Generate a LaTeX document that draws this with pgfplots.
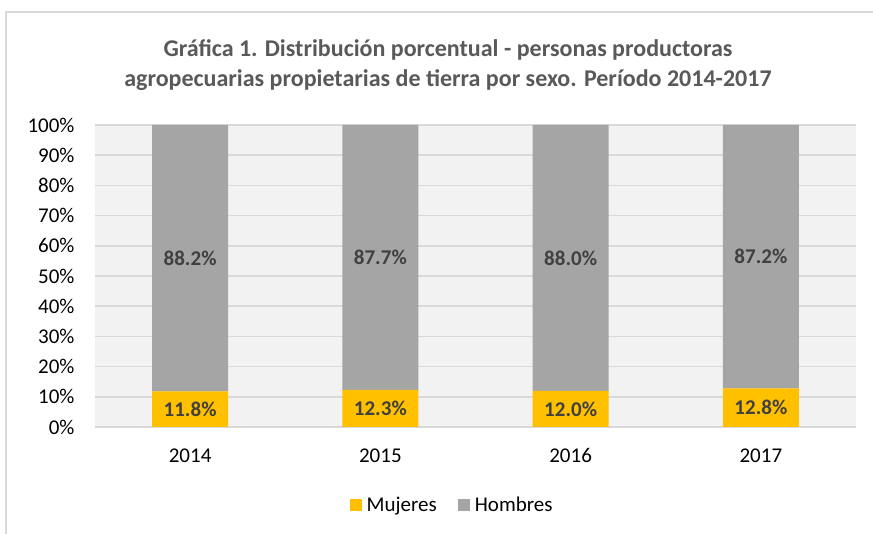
\documentclass[border=0pt]{standalone}
\usepackage{pgfplots}
\pgfplotsset{compat=1.18}
\usepackage{pgfplotstable}
\usepackage{fontspec}
\setmainfont{Carlito}
\definecolor{myyellow}{HTML}{FFC000}
\definecolor{mygray}{HTML}{A5A5A5}
\definecolor{gridgray}{HTML}{D9D9D9}
\definecolor{plotbg}{HTML}{F2F2F2}
\definecolor{titlegray}{HTML}{595959}
\definecolor{labelgray}{HTML}{404040}

\pgfplotstableread{
x year mujeres hombres
0 2014 11.8 88.2
1 2015 12.3 87.7
2 2016 12.0 88.0
3 2017 12.8 87.2
}\datatable

\begin{document}
\begin{tikzpicture}
\useasboundingbox (0,0) rectangle (873pt,533pt);
\fill[white] (0,0) rectangle (873pt,533pt);
\draw[gridgray, line width=1.5pt] (6pt,-10pt) -- (6pt,521pt) -- (885pt,521pt);
\node[align=center, text=titlegray, font=\fontsize{24}{30}\selectfont\bfseries] at (448pt,468pt)
  {Gráfica 1. Distribución porcentual - personas productoras\\agropecuarias propietarias de tierra por sexo. Período 2014-2017};
\begin{axis}[
  at={(95pt,106pt)}, anchor=south west,
  scale only axis, width=761pt, height=302pt,
  xmin=-0.5, xmax=3.5, ymin=0, ymax=100,
  ybar stacked, bar width=76pt,
  axis background/.style={fill=plotbg},
  axis line style={draw=none},
  ymajorgrids, grid style={gridgray, line width=1.5pt},
  ytick={0,10,...,100},
  yticklabel={\pgfmathprintnumber{\tick}\%},
  yticklabel style={xshift=-17pt},
  xtick={0,1,2,3}, xticklabels={2014,2015,2016,2017},
  xticklabel style={yshift=-18pt},
  tick style={draw=none},
  ticklabel style={font=\fontsize{21}{21}\selectfont},
  /pgf/number format/assume math mode=true,
  legend columns=2,
  legend style={at={(0.468,-0.258)}, anchor=center, draw=none, fill=none,
    font=\fontsize{21}{21}\selectfont,
    nodes={inner sep=0pt},
    /tikz/every odd column/.style={column sep=5pt},
    /tikz/every even column/.style={column sep=21pt}},
  legend image code/.code={\fill[#1,draw=none] (0pt,-6pt) rectangle (12pt,6pt);},
]
\addplot[fill=myyellow, draw=none] table[x=x, y=mujeres] \datatable;
\addlegendentry{Mujeres}
\addplot[fill=mygray, draw=none] table[x=x, y=hombres] \datatable;
\addlegendentry{Hombres}
\end{axis}
\begin{axis}[
  at={(95pt,106pt)}, anchor=south west,
  scale only axis, width=761pt, height=302pt,
  xmin=-0.5, xmax=3.5, ymin=0, ymax=100,
  hide axis,
  nodes near coords={\pgfmathprintnumber[fixed, fixed zerofill, precision=1, assume math mode=true]{\pgfplotspointmeta}\%},
  every node near coord/.append style={anchor=center, text=labelgray, font=\fontsize{21}{21}\selectfont\bfseries},
]
\addplot[draw=none, mark=none, point meta=explicit] table[x=x, y expr=\thisrow{mujeres}/2, meta=mujeres] \datatable;
\addplot[draw=none, mark=none, point meta=explicit] table[x=x, y expr=\thisrow{mujeres}+\thisrow{hombres}/2, meta=hombres] \datatable;
\end{axis}
\end{tikzpicture}
\end{document}
